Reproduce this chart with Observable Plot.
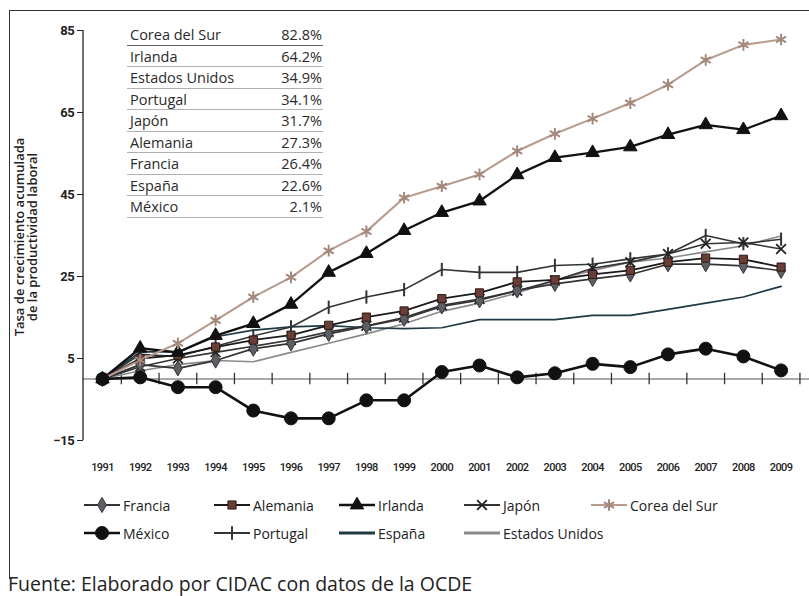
<!DOCTYPE html>
<html><head><meta charset="utf-8">
<script src="https://cdn.jsdelivr.net/npm/d3@7"></script>
<script src="https://cdn.jsdelivr.net/npm/@observablehq/plot@0.6"></script>
<style>
body{margin:0;background:#fff;}
#wrap{position:relative;width:809px;height:596px;overflow:hidden;background:#fff;font-family:"Open Sans",sans-serif;color:#222;}
#border{position:absolute;left:9px;top:10px;width:830px;height:568px;border-left:1.5px solid #333;border-top:1.5px solid #333;}
#chart{position:absolute;left:0;top:0;}
#table{position:absolute;left:127px;top:24px;width:196px;font-size:14.5px;color:#2a2a2a;}
.row{height:21.5px;line-height:21px;border-bottom:1px solid #b0b0b0;display:flex;justify-content:space-between;box-sizing:border-box;padding:0 1px 0 3px;}
.row:first-child{border-bottom-color:#666;}
.leg{position:absolute;display:flex;align-items:center;font-size:14px;color:#222;height:20px;}
.leg span{margin-left:2px;}
#fuente{position:absolute;left:8px;top:574px;font-size:19.5px;line-height:1;height:21px;color:#222;white-space:nowrap;}
</style>
</head><body>
<div id="wrap">
  <div id="border"></div>
  <div id="chart"></div>
  <div id="table"></div>
  <div id="legend"></div>
  <div id="fuente">Fuente: Elaborado por CIDAC con datos de la OCDE</div>
</div>
<script>
const years = [1991,1992,1993,1994,1995,1996,1997,1998,1999,2000,2001,2002,2003,2004,2005,2006,2007,2008,2009];
const yTicks = [-15, 5, 25, 45, 65, 85];

const francia  = [0, 3.5, 2.6, 4.5, 7.4, 8.7, 11, 12.9, 14.7, 17.7, 19.2, 21.6, 23.2, 24.4, 25.5, 28, 28, 27.6, 26.4];
const alemania = [0, 5, 5.8, 7.8, 9.5, 10.7, 13.1, 15.1, 16.6, 19.6, 21, 23.7, 24.2, 25.5, 26.5, 28.5, 29.5, 29.2, 27.3];
const irlanda  = [0, 7.5, 6.5, 10.6, 13.5, 18.2, 26, 30.6, 36.2, 40.6, 43.4, 49.8, 54, 55.2, 56.6, 59.6, 62, 60.8, 64.2];
const japon    = [0, 3, 5, 6.5, 8, 9.5, 11.5, 13, 15, 18, 19.5, 21.5, 24, 27, 28.5, 30.5, 33, 33.3, 31.7];
const corea    = [0, 4.6, 8.7, 14.3, 20, 24.8, 31.3, 36, 44.2, 47, 49.9, 55.6, 59.8, 63.5, 67.3, 71.8, 77.8, 81.5, 82.8];
const mexico   = [0, 0.4, -2, -2, -7.7, -9.6, -9.6, -5.2, -5.2, 1.7, 3.3, 0.4, 1.4, 3.7, 2.9, 6, 7.4, 5.5, 2.1];
const portugal = [0, 6, 5.5, 8, 10.5, 12.7, 17.5, 20, 21.8, 26.7, 26, 26, 27.7, 28, 29.3, 30.5, 35, 33, 34.1];
const espana   = [0, 6.6, 6.6, 10.3, 11.9, 12.7, 13, 12.5, 12.3, 12.5, 14.5, 14.5, 14.5, 15.5, 15.5, 17, 18.5, 20, 22.6];
const eeuu     = [0, 2, 3.5, 4.5, 4.2, 6.5, 8.7, 11, 13.5, 16.5, 18.5, 21, 24, 26.5, 28.5, 29.5, 31, 32.5, 34.9];

const tableCountries = ["Corea del Sur","Irlanda","Estados Unidos","Portugal","Japón","Alemania","Francia","España","México"];
const tablePct = ["82.8%","64.2%","34.9%","34.1%","31.7%","27.3%","26.4%","22.6%","2.1%"];

const legendRow1 = ["Francia","Alemania","Irlanda","Japón","Corea del Sur"];
const legendRow2 = ["México","Portugal","España","Estados Unidos"];

// custom vertical-tick symbol for Portugal
const vtick = {draw(ctx, size){ const h = Math.sqrt(size) * 0.75; ctx.moveTo(0, -h); ctx.lineTo(0, h); }};

const styles = {
  "Estados Unidos": {values: eeuu, stroke: "#8a8a8a", sw: 1.6},
  "España":         {values: espana, stroke: "#1f3a45", sw: 1.7},
  "Portugal":       {values: portugal, stroke: "#333", sw: 1.6, symbol: vtick, mstroke: "#333", mfill: "none", r: 5, msw: 2},
  "Japón":          {values: japon, stroke: "#333", sw: 1.6, symbol: "times", mstroke: "#222", mfill: "none", r: 4.5, msw: 1.8},
  "Francia":        {values: francia, stroke: "#333", sw: 1.7, symbol: "diamond", mstroke: "#333", mfill: "#5e5e66", r: 4.6, msw: 1},
  "Alemania":       {values: alemania, stroke: "#1a1a1a", sw: 1.8, symbol: "square", mstroke: "#2a1a18", mfill: "#6a3d36", r: 4.6, msw: 1},
  "Irlanda":        {values: irlanda, stroke: "#111", sw: 2.3, symbol: "triangle", mstroke: "#111", mfill: "#111", r: 5, msw: 1},
  "Corea del Sur":  {values: corea, stroke: "#b89b8f", sw: 2.1, symbol: "asterisk", mstroke: "#a4887c", mfill: "none", r: 5.5, msw: 2},
  "México":         {values: mexico, stroke: "#111", sw: 2.6, symbol: "circle", mstroke: "#111", mfill: "#111", r: 6.5, msw: 1}
};

const order = ["Estados Unidos","España","Portugal","Japón","Francia","Alemania","Irlanda","Corea del Sur","México"];
const rowsFor = name => years.map((yr, i) => ({country: name, year: yr, value: styles[name].values[i]}));

const lineMarks = order.map(n => Plot.line(rowsFor(n), {x: "year", y: "value", stroke: styles[n].stroke, strokeWidth: styles[n].sw, strokeLinejoin: "round"}));
const dotMarks = order.filter(n => styles[n].symbol).map(n => Plot.dot(rowsFor(n), {
  x: "year", y: "value", symbol: styles[n].symbol, r: styles[n].r,
  stroke: styles[n].mstroke, fill: styles[n].mfill, strokeWidth: styles[n].msw
}));

const tickPos = years.map(y => y + 0.5);

const plot = Plot.plot({
  width: 809, height: 480,
  marginLeft: 83, marginRight: 0, marginTop: 30, marginBottom: 40,
  style: {fontFamily: "Roboto, sans-serif", background: "transparent", color: "#222"},
  x: {domain: [1991, 2009], range: [102, 780.6], label: null},
  y: {domain: [-15, 85], label: null},
  marks: [
    Plot.ruleY([0], {stroke: "#8c8c8c", strokeWidth: 1.6}),
    Plot.ruleX(tickPos, {x: d => d, y1: -1.4, y2: 1.4, stroke: "#333", strokeWidth: 1.3}),
    ...lineMarks,
    ...dotMarks,
    Plot.axisY({ticks: yTicks, tickSize: 6, tickPadding: 3, fontSize: 13, label: null, stroke: "#222"}),
    Plot.axisX({ticks: years, tickFormat: d => String(d), tickSize: 0, tickPadding: 23, fontSize: 11, label: null})
  ]
});
document.getElementById("chart").appendChild(plot);

const svg = d3.select(plot);
const ys = plot.scale("y");
svg.selectAll('g[aria-label="y-axis tick label"] text').style("font-weight", "bold").style("letter-spacing", "-0.3px");
svg.selectAll('g[aria-label="x-axis tick label"] text').style("letter-spacing", "-0.6px").style("font-weight", "500");
svg.append("line").attr("x1", 83).attr("x2", 83).attr("y1", ys.apply(85)).attr("y2", ys.apply(-15))
  .attr("stroke", "#222").attr("stroke-width", 1.3);
const yl = svg.append("g").attr("transform", "translate(0,237) rotate(-90)")
  .attr("font-family", "Open Sans, sans-serif").attr("font-size", 13).attr("font-weight", 600).attr("fill", "#222")
  .attr("text-anchor", "middle");
yl.append("text").attr("x", 0).attr("y", 24).text("Tasa de crecimiento acumulada");
yl.append("text").attr("x", 0).attr("y", 37).text("de la productividad laboral");

// table
const tb = d3.select("#table");
tableCountries.forEach((c, i) => {
  const r = tb.append("div").attr("class", "row");
  r.append("span").text(c);
  r.append("span").text(tablePct[i]);
});

// legend
const lg = d3.select("#legend");
const cols = [83, 213, 338, 463, 590];
function legendItem(name, x, yc) {
  const s = styles[name];
  const item = lg.append("div").attr("class", "leg").style("left", x + "px").style("top", (yc - 10) + "px");
  const sv = item.append("svg").attr("width", 38).attr("height", 20);
  const isPlain = !s.symbol;
  sv.append("line").attr("x1", 1).attr("x2", 37).attr("y1", 10).attr("y2", 10)
    .attr("stroke", s.stroke).attr("stroke-width", isPlain ? 3 : Math.max(2, s.sw));
  if (s.symbol) {
    const map = {diamond: d3.symbolDiamond, square: d3.symbolSquare, triangle: d3.symbolTriangle, times: d3.symbolTimes, asterisk: d3.symbolAsterisk, circle: d3.symbolCircle};
    const type = typeof s.symbol === "string" ? map[s.symbol] : s.symbol;
    sv.append("path").attr("transform", "translate(19,10)")
      .attr("d", d3.symbol(type, Math.PI * s.r * s.r)())
      .attr("fill", s.mfill).attr("stroke", s.mstroke).attr("stroke-width", s.msw);
  }
  item.append("span").text(name);
}
legendRow1.forEach((n, i) => legendItem(n, cols[i], 505));
legendRow2.forEach((n, i) => legendItem(n, cols[i], 533));
</script>
</body></html>
